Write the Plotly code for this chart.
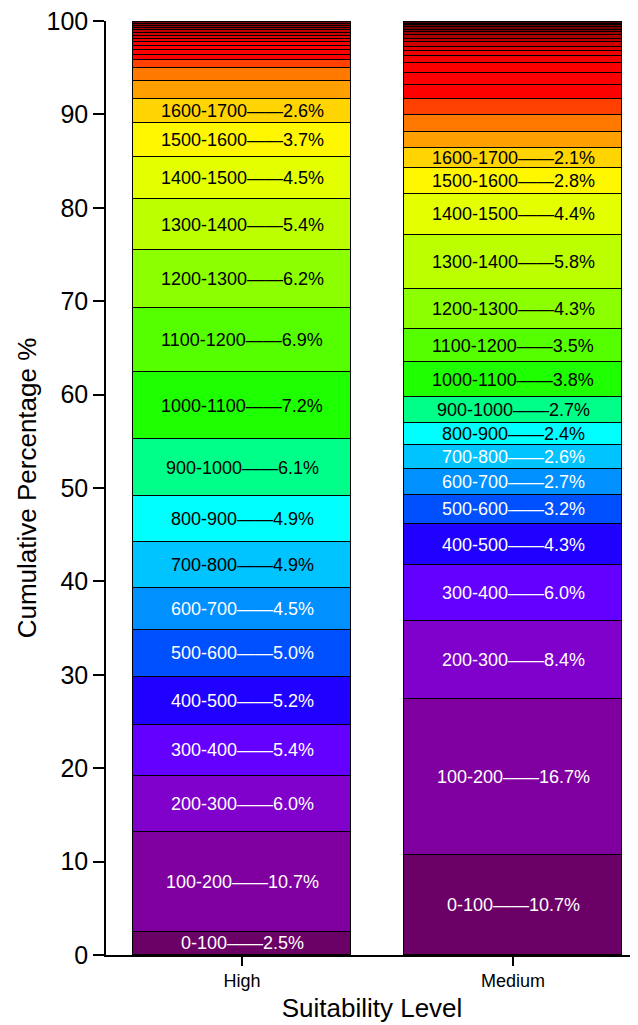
import plotly.graph_objects as go

# ---- data ----
levels = ["High", "Medium"]
bins = ["0-100", "100-200", "200-300", "300-400", "400-500", "500-600", "600-700",
        "700-800", "800-900", "900-1000", "1000-1100", "1100-1200", "1200-1300",
        "1300-1400", "1400-1500", "1500-1600", "1600-1700", "1700-1800", "1800-1900",
        "1900-2000", "2000-2100", "2100-2200", "2200-2300", "2300-2400", "2400-2500",
        "2500-2600", "2600-2700", "2700-2800", "2800-2900", "2900-3000", "3000-3100",
        "3100-3200", "3200-3300", "3300-3400", "3400-3500", "3500-3600"]
high_pct = [2.5, 10.7, 6.0, 5.4, 5.2, 5.0, 4.5, 4.9, 4.9, 6.1, 7.2, 6.9, 6.2, 5.4, 4.5, 3.7, 2.6,
            1.86, 1.46, 0.79, 0.6, 0.46, 0.45, 0.4, 0.36, 0.33, 0.3, 0.28, 0.25, 0.22, 0.2,
            0.18, 0.16, 0.0, 0.0, 0.0]
medium_pct = [10.7, 16.7, 8.4, 6.0, 4.3, 3.2, 2.7, 2.6, 2.4, 2.7, 3.8, 3.5, 4.3, 5.8, 4.4, 2.8, 2.1,
              1.71, 1.78, 1.78, 1.53, 1.25, 1.04, 0.71, 0.57, 0.5, 0.45, 0.4, 0.35, 0.32, 0.28,
              0.25, 0.22, 0.19, 0.15, 0.12]
n_labeled = 17
colors = ["#6b0067", "#80009f", "#8000cc", "#6400ff", "#2000ff", "#0050ff", "#0090ff",
          "#00c4ff", "#00ffff", "#00ff88", "#1eff00", "#55ff00", "#8cff00", "#bbff00",
          "#e4ff00", "#fff700", "#ffd400", "#ffa000", "#ff7800", "#ff4000",
          "#ff0000", "#ff0000", "#fc0000", "#f50000", "#ec0000", "#e00000", "#d00000",
          "#c00000", "#ae0000", "#9c0000", "#8a0000", "#780000", "#680000", "#5a0000",
          "#4e0000", "#440000"]
white_text_upto = {"High": 6, "Medium": 7}

FONT = "Arial, Liberation Sans, sans-serif"
fig = go.Figure()
for i, b in enumerate(bins):
    fig.add_trace(go.Bar(
        x=[0, 1], y=[high_pct[i], medium_pct[i]], name=b,
        marker=dict(color=colors[i], line=dict(color="black", width=1.3)),
        width=0.804, showlegend=False, hoverinfo="name+y"))

annotations = []
for xi, (lvl, vals) in enumerate(zip(levels, [high_pct, medium_pct])):
    cum = 0.0
    for i, v in enumerate(vals):
        if i < n_labeled:
            annotations.append(dict(
                x=xi, y=cum + v / 2, xref="x", yref="y", showarrow=False,
                text=f"{bins[i]}——{v:.1f}%",
                font=dict(family=FONT, size=18,
                          color="white" if i <= white_text_upto[lvl] else "black")))
        cum += v

# page body has an 8px margin; size/margins compensate for it
fig.update_layout(
    barmode="stack", bargap=0,
    width=630, height=1017,
    margin=dict(l=98, r=0, t=13, b=70, autoexpand=False),
    plot_bgcolor="white", paper_bgcolor="white",
    annotations=annotations,
    font=dict(family=FONT, color="black"),
    xaxis=dict(range=[-0.502, 1.461], tickvals=[0, 1], ticktext=levels,
               showline=True, linecolor="black", linewidth=1.5,
               ticks="outside", ticklen=9, tickwidth=1.5, tickcolor="black",
               tickfont=dict(size=18), showgrid=False, zeroline=False, automargin=False,
               ticklabeloverflow="allow",
               title=dict(text="Suitability Level", font=dict(size=26), standoff=8)),
    yaxis=dict(range=[0, 100], tickvals=list(range(0, 101, 10)),
               showline=True, linecolor="black", linewidth=1.5,
               ticks="outside", ticklen=11, tickwidth=1.5, tickcolor="black",
               ticklabeloverflow="allow",
               tickfont=dict(size=25), showgrid=False, zeroline=False, automargin=False,
               title=dict(text="Cumulative Percentage %", font=dict(size=26), standoff=2)),
)
fig.write_html("out.html")
